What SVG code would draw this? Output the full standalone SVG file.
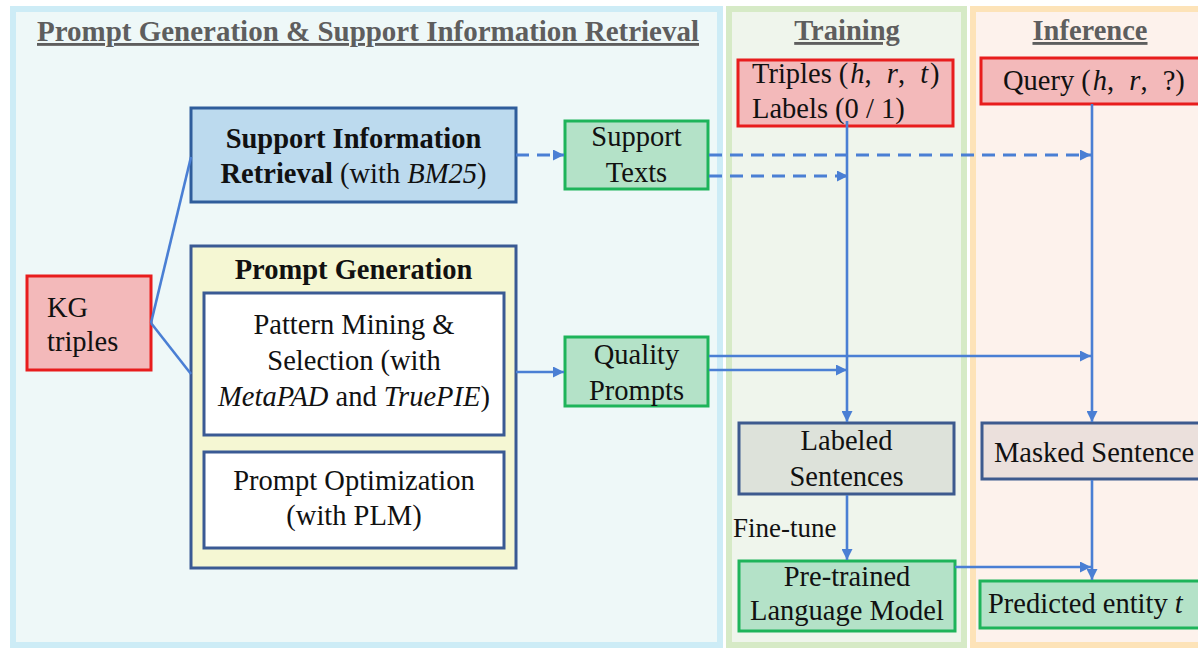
<svg xmlns="http://www.w3.org/2000/svg" width="1198" height="649" viewBox="0 0 1198 649">
  <defs>
    <marker id="arrow" viewBox="0 0 10 10" refX="10" refY="5" markerWidth="12" markerHeight="11" markerUnits="userSpaceOnUse" orient="auto">
      <path d="M0,0 L10,5 L0,10 z" fill="#4a7fd4"/>
    </marker>
    <style>
      text { font-family: "Liberation Serif", "Times New Roman", serif; font-size: 28.5px; fill: #111; }
      .title { font-weight: bold; fill: #5e5e5e; text-decoration: underline; }
      .b { font-weight: bold; }
      .i { font-style: italic; }
      .mid { text-anchor: middle; }
      .red { fill: #f3b9ba; stroke: #e81d1d; stroke-width: 3; }
      .blue { fill: #bcdaee; stroke: #2f5d9b; stroke-width: 3; }
      .yel { fill: #f5f7d3; stroke: #3a5a94; stroke-width: 3; }
      .white { fill: #ffffff; stroke: #3a5a94; stroke-width: 3; }
      .green { fill: #b4e2c8; stroke: #1eb45a; stroke-width: 3; }
      .grey { fill: #dde2da; stroke: #3d5a8e; stroke-width: 3; }
      .rose { fill: #ebe0dc; stroke: #3d5a8e; stroke-width: 3; }
      .conn { stroke: #4a7fd4; stroke-width: 2.6; fill: none; }
      .dash { stroke-dasharray: 13 8; stroke-width: 2.8; }
    </style>
  </defs>

  <rect width="1198" height="649" fill="#ffffff"/>

  <!-- stage panels -->
  <g id="panels">
    <rect x="13" y="9" width="707" height="636" fill="#eef8f8" stroke="#cdecf6" stroke-width="6"/>
    <rect x="729" y="9" width="235" height="636" fill="#eff5ec" stroke="#d6eac6" stroke-width="6"/>
    <rect x="973" y="9" width="240" height="636" fill="#fdf2ec" stroke="#fde3b8" stroke-width="6"/>
    <text class="title mid" x="368" y="41" textLength="662" lengthAdjust="spacingAndGlyphs">Prompt Generation &amp; Support Information Retrieval</text>
    <text class="title mid" x="847" y="40">Training</text>
    <text class="title mid" x="1090" y="40">Inference</text>
  </g>

  <!-- nodes -->
  <g id="kg-triples">
    <rect class="red" x="27" y="276" width="124" height="94"/>
    <text x="47" y="317">KG</text>
    <text x="47" y="351">triples</text>
  </g>

  <g id="support-retrieval">
    <rect class="blue" x="191" y="108" width="325" height="94"/>
    <text class="mid b" x="353.5" y="148">Support Information</text>
    <text class="mid" x="353.5" y="183"><tspan class="b">Retrieval</tspan> (with <tspan class="i">BM25</tspan>)</text>
  </g>

  <g id="prompt-generation">
    <rect class="yel" x="191" y="246" width="325" height="322"/>
    <text class="mid b" x="353.5" y="279">Prompt Generation</text>
  </g>

  <g id="pattern-mining">
    <rect class="white" x="204" y="293" width="300" height="142"/>
    <text class="mid" x="354" y="334">Pattern Mining &amp;</text>
    <text class="mid" x="354" y="370">Selection (with</text>
    <text class="mid" x="354" y="406"><tspan class="i">MetaPAD</tspan> and <tspan class="i">TruePIE</tspan>)</text>
  </g>

  <g id="prompt-optimization">
    <rect class="white" x="204" y="452" width="300" height="96"/>
    <text class="mid" x="354" y="490">Prompt Optimization</text>
    <text class="mid" x="354" y="525">(with PLM)</text>
  </g>

  <g id="support-texts">
    <rect class="green" x="565" y="121" width="143" height="68"/>
    <text class="mid" x="636.5" y="146">Support</text>
    <text class="mid" x="636.5" y="182">Texts</text>
  </g>

  <g id="quality-prompts">
    <rect class="green" x="565" y="337" width="143" height="69"/>
    <text class="mid" x="636.5" y="364">Quality</text>
    <text class="mid" x="636.5" y="400">Prompts</text>
  </g>

  <g id="training-triples">
    <rect class="red" x="738" y="60" width="215" height="66"/>
    <text x="752" y="83">Triples (<tspan class="i" dx="2">h</tspan>, <tspan class="i" dx="8">r</tspan>, <tspan class="i" dx="8">t</tspan><tspan dx="2">)</tspan></text>
    <text x="752" y="118">Labels (0 / 1)</text>
  </g>

  <g id="query">
    <rect class="red" x="981" y="58" width="225" height="46"/>
    <text x="1003" y="90">Query (<tspan class="i" dx="2">h</tspan>, <tspan class="i" dx="8">r</tspan>, <tspan dx="8">?)</tspan></text>
  </g>

  <g id="labeled-sentences">
    <rect class="grey" x="739" y="423" width="215" height="71"/>
    <text class="mid" x="846.5" y="450">Labeled</text>
    <text class="mid" x="846.5" y="486">Sentences</text>
  </g>

  <g id="masked-sentence">
    <rect class="rose" x="982" y="423" width="230" height="56"/>
    <text x="994" y="462">Masked Sentence</text>
  </g>

  <g id="fine-tune-label">
    <text x="733" y="537" style="font-size:27px">Fine-tune</text>
  </g>

  <g id="plm">
    <rect class="green" x="739" y="561" width="216" height="70"/>
    <text class="mid" x="847" y="586">Pre-trained</text>
    <text class="mid" x="847" y="620">Language Model</text>
  </g>

  <g id="predicted-entity">
    <rect class="green" x="980" y="581" width="230" height="47"/>
    <text x="988" y="613">Predicted entity <tspan class="i">t</tspan></text>
  </g>

  <!-- connectors -->
  <g id="connectors">
    <line class="conn" x1="151" y1="323" x2="191" y2="157"/>
    <line class="conn" x1="151" y1="323" x2="191" y2="374"/>
    <line class="conn dash" x1="516" y1="155" x2="564" y2="155" marker-end="url(#arrow)"/>
    <line class="conn dash" x1="709" y1="155" x2="1091" y2="155" marker-end="url(#arrow)"/>
    <line class="conn dash" x1="709" y1="176" x2="848" y2="176" marker-end="url(#arrow)"/>
    <line class="conn" x1="516" y1="372" x2="564" y2="372" marker-end="url(#arrow)"/>
    <line class="conn" x1="709" y1="356" x2="1091" y2="356" marker-end="url(#arrow)"/>
    <line class="conn" x1="709" y1="370" x2="847" y2="370" marker-end="url(#arrow)"/>
    <line class="conn" x1="847" y1="121" x2="847" y2="422" marker-end="url(#arrow)"/>
    <line class="conn" x1="1092" y1="104" x2="1092" y2="422" marker-end="url(#arrow)"/>
    <line class="conn" x1="847" y1="495" x2="847" y2="560" marker-end="url(#arrow)"/>
    <line class="conn" x1="1092" y1="480" x2="1092" y2="580" marker-end="url(#arrow)"/>
    <line class="conn" x1="955" y1="567" x2="1091" y2="567" marker-end="url(#arrow)"/>
  </g>
</svg>
